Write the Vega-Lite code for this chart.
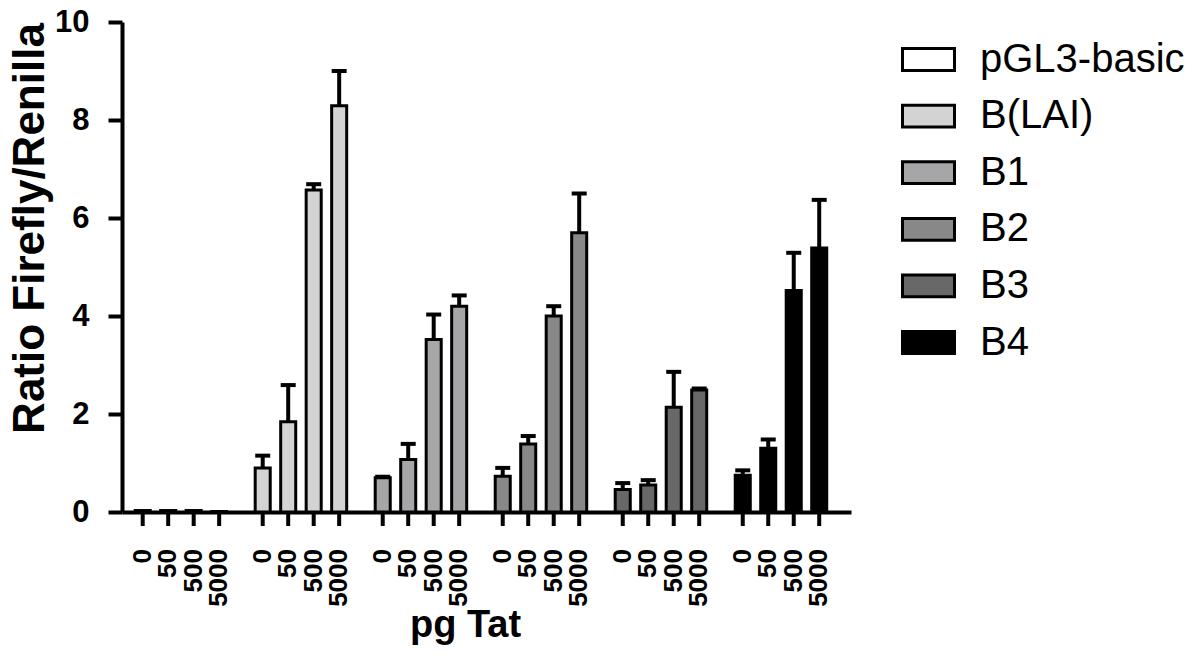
{
  "$schema": "https://vega.github.io/schema/vega-lite/v6.json",
  "autosize": {"type": "none"},
  "padding": {"left": 122, "top": 22, "right": 349, "bottom": 144},
  "width": 729,
  "height": 490,
  "background": "white",
  "config": {
    "view": {"stroke": null},
    "font": "Liberation Sans",
    "axis": {"grid": false, "domainColor": "black", "domainWidth": 4, "tickColor": "black", "tickWidth": 4, "labelColor": "black", "titleColor": "black"}
  },
  "data": {
    "values": [
      {"construct": "pGL3-basic", "pg": "0", "value": 0.03, "upper": 0.03},
      {"construct": "pGL3-basic", "pg": "50", "value": 0.03, "upper": 0.03},
      {"construct": "pGL3-basic", "pg": "500", "value": 0.03, "upper": 0.03},
      {"construct": "pGL3-basic", "pg": "5000", "value": 0.01, "upper": 0.01},
      {"construct": "B(LAI)", "pg": "0", "value": 0.90, "upper": 1.15},
      {"construct": "B(LAI)", "pg": "50", "value": 1.84, "upper": 2.59},
      {"construct": "B(LAI)", "pg": "500", "value": 6.57, "upper": 6.69},
      {"construct": "B(LAI)", "pg": "5000", "value": 8.29, "upper": 9.00},
      {"construct": "B1", "pg": "0", "value": 0.70, "upper": 0.72},
      {"construct": "B1", "pg": "50", "value": 1.07, "upper": 1.39},
      {"construct": "B1", "pg": "500", "value": 3.52, "upper": 4.03},
      {"construct": "B1", "pg": "5000", "value": 4.20, "upper": 4.42},
      {"construct": "B2", "pg": "0", "value": 0.73, "upper": 0.90},
      {"construct": "B2", "pg": "50", "value": 1.39, "upper": 1.55},
      {"construct": "B2", "pg": "500", "value": 4.00, "upper": 4.20},
      {"construct": "B2", "pg": "5000", "value": 5.70, "upper": 6.50},
      {"construct": "B3", "pg": "0", "value": 0.46, "upper": 0.59},
      {"construct": "B3", "pg": "50", "value": 0.55, "upper": 0.65},
      {"construct": "B3", "pg": "500", "value": 2.14, "upper": 2.86},
      {"construct": "B3", "pg": "5000", "value": 2.49, "upper": 2.52},
      {"construct": "B4", "pg": "0", "value": 0.75, "upper": 0.85},
      {"construct": "B4", "pg": "50", "value": 1.30, "upper": 1.48},
      {"construct": "B4", "pg": "500", "value": 4.52, "upper": 5.29},
      {"construct": "B4", "pg": "5000", "value": 5.39, "upper": 6.37}
    ]
  },
  "encoding": {
    "x": {
      "field": "construct", "type": "nominal",
      "sort": ["pGL3-basic", "B(LAI)", "B1", "B2", "B3", "B4"],
      "scale": {"paddingInner": 0.2375, "paddingOuter": 0.156, "align": 0.352},
      "axis": {"labels": false, "ticks": false, "title": "pg Tat", "titleFont": "Liberation Sans", "titleFontWeight": "bold", "titleFontSize": 38, "titleX": 343, "titleY": 124, "titleAlign": "center", "titleBaseline": "alphabetic"}
    },
    "xOffset": {
      "field": "pg", "type": "nominal",
      "sort": ["0", "50", "500", "5000"],
      "scale": {"paddingInner": 0.41, "paddingOuter": 0}
    }
  },
  "layer": [
    {
      "mark": {"type": "bar", "stroke": "black", "strokeWidth": 3, "fillOpacity": 1},
      "encoding": {
        "y": {
          "field": "value", "type": "quantitative",
          "scale": {"domain": [0, 10], "nice": false, "zero": true},
          "axis": {"values": [0, 2, 4, 6, 8, 10], "tickSize": 14, "labelFont": "Liberation Sans", "labelFontWeight": "bold", "labelFontSize": 31, "labelPadding": 19, "title": "Ratio Firefly/Renilla", "titleFont": "Liberation Sans", "titleFontWeight": "bold", "titleFontSize": 44, "titleAngle": 270, "titleX": -79, "titleY": 206, "titleAlign": "center", "titleBaseline": "alphabetic"}
        },
        "fill": {
          "field": "construct", "type": "nominal",
          "sort": ["pGL3-basic", "B(LAI)", "B1", "B2", "B3", "B4"],
          "scale": {"domain": ["pGL3-basic", "B(LAI)", "B1", "B2", "B3", "B4"], "range": ["#ffffff", "#d3d3d3", "#a6a6a8", "#888888", "#686868", "#000000"]},
          "legend": {
            "title": null, "orient": "none", "legendX": 779, "legendY": 10,
            "padding": 0,
            "symbolType": "M-1,-0.42H1V0.42H-1Z", "symbolSize": 2704,
            "symbolStrokeColor": "black", "symbolStrokeWidth": 3, "symbolOpacity": 1,
            "labelFont": "Liberation Sans", "labelFontSize": 40, "labelColor": "black",
            "labelOffset": 24, "rowPadding": 8.6, "labelLimit": 400
          }
        }
      }
    },
    {
      "transform": [{"filter": "datum.upper > datum.value"}],
      "mark": {"type": "rule", "color": "black", "strokeWidth": 4},
      "encoding": {
        "y": {"field": "value", "type": "quantitative"},
        "y2": {"field": "upper"}
      }
    },
    {
      "transform": [{"filter": "datum.upper > datum.value"}],
      "mark": {"type": "tick", "color": "black", "size": 15, "thickness": 4, "opacity": 1},
      "encoding": {
        "y": {"field": "upper", "type": "quantitative"}
      }
    },
    {
      "mark": {"type": "tick", "orient": "vertical", "color": "black", "size": 14, "thickness": 4, "opacity": 1, "yOffset": 7},
      "encoding": {
        "y": {"datum": 0, "type": "quantitative"}
      }
    },
    {
      "mark": {"type": "text", "angle": 270, "align": "right", "baseline": "middle", "dx": -37, "font": "Liberation Sans", "fontWeight": "bold", "fontSize": 26, "color": "black"},
      "encoding": {
        "y": {"datum": 0, "type": "quantitative"},
        "text": {"field": "pg"}
      }
    }
  ]
}
